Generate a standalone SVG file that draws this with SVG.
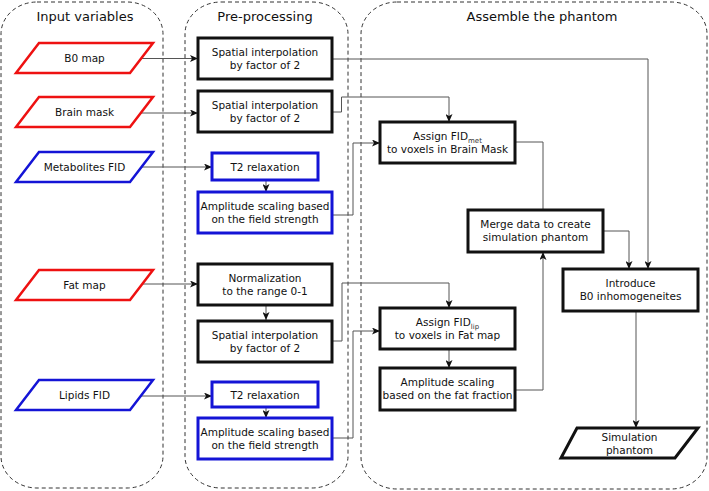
<svg xmlns="http://www.w3.org/2000/svg" width="709" height="491" viewBox="0 0 709 491">
<defs>
<marker id="ah" markerUnits="userSpaceOnUse" markerWidth="9" markerHeight="7" refX="8" refY="3.5" orient="auto">
<path d="M0,0 L8,3.5 L0,7 L2,3.5 Z" fill="#111"/>
</marker>
<style>
.lane{fill:none;stroke:#333;stroke-width:1;stroke-dasharray:4,3}
.title{font-family:"DejaVu Sans",sans-serif;font-size:13px;fill:#111;text-anchor:middle}
.t{font-family:"DejaVu Sans",sans-serif;font-size:10.5px;fill:#111;text-anchor:middle}
.sub{font-size:7px;fill:#333}
.bk{fill:#fff;stroke:#111;stroke-width:3}
.bl{fill:#fff;stroke:#1414d6;stroke-width:3}
.pr{fill:#fff;stroke:#ee1111;stroke-width:2.5}
.pb{fill:#fff;stroke:#1414d6;stroke-width:2.5}
.pk{fill:#fff;stroke:#111;stroke-width:3}
.c{fill:none;stroke:#555;stroke-width:1;marker-end:url(#ah)}
.cn{fill:none;stroke:#555;stroke-width:1}
</style>
</defs>
<g id="lanes">
<rect class="lane" x="1" y="2" width="162" height="486" rx="36" ry="32"/>
<rect class="lane" x="185" y="2" width="163" height="486" rx="36" ry="32"/>
<rect class="lane" x="361" y="2" width="346" height="487" rx="36" ry="32"/>
<text class="title" x="85" y="21">Input variables</text>
<text class="title" x="265" y="21">Pre-processing</text>
<text class="title" x="542" y="21">Assemble the phantom</text>
</g>
<g id="connectors">
<path class="c" d="M140,58.5 H198"/>
<path class="c" d="M332,59 H648 V269"/>
<path class="c" d="M140,113 H198"/>
<path class="c" d="M332,112 H341.5 V97 H449 V122"/>
<path class="c" d="M137,167 H212"/>
<path class="c" d="M266,180 V192"/>
<path class="c" d="M332,215 H353 V143 H380"/>
<path class="cn" d="M515,142 H543 V210"/>
<path class="c" d="M603,231 H629 V269"/>
<path class="c" d="M140,284 H198"/>
<path class="c" d="M266,305 V320"/>
<path class="c" d="M332,341 H342 V283 H449 V308"/>
<path class="c" d="M140,396 H212"/>
<path class="c" d="M266,407 V418"/>
<path class="c" d="M332,438 H353 V331 H380"/>
<path class="c" d="M449,349 V368"/>
<path class="c" d="M515,390 H543 V252"/>
<path class="c" d="M636,311 V428"/>
</g>
<g id="b0map">
<polygon class="pr" points="39,43 153,43 130,73 16,73"/>
<text class="t" x="84.5" y="62">B0 map</text>
</g>
<g id="brainmask">
<polygon class="pr" points="39,97 153,97 130,127 16,127"/>
<text class="t" x="84.5" y="116">Brain mask</text>
</g>
<g id="metfid">
<polygon class="pb" points="39,152 153,152 130,182 16,182"/>
<text class="t" x="84.5" y="171">Metabolites FID</text>
</g>
<g id="fatmap">
<polygon class="pr" points="39,270 153,270 130,300 16,300"/>
<text class="t" x="84.5" y="289">Fat map</text>
</g>
<g id="lipfid">
<polygon class="pb" points="39,380 153,380 130,410 16,410"/>
<text class="t" x="84.5" y="399">Lipids FID</text>
</g>
<g id="interp1">
<rect class="bk" x="198" y="38" width="134" height="41"/>
<text class="t" x="265" y="56">Spatial interpolation</text>
<text class="t" x="265" y="69">by factor of 2</text>
</g>
<g id="interp2">
<rect class="bk" x="198" y="91" width="134" height="41"/>
<text class="t" x="265" y="109">Spatial interpolation</text>
<text class="t" x="265" y="122">by factor of 2</text>
</g>
<g id="t2met">
<rect class="bl" x="212" y="153" width="106" height="27"/>
<text class="t" x="265" y="170.5">T2 relaxation</text>
</g>
<g id="ampmet">
<rect class="bl" x="198" y="192" width="134" height="41"/>
<text class="t" x="265" y="210">Amplitude scaling based</text>
<text class="t" x="265" y="223">on the field strength</text>
</g>
<g id="norm">
<rect class="bk" x="198" y="264" width="134" height="41"/>
<text class="t" x="265" y="282">Normalization</text>
<text class="t" x="265" y="295">to the range 0-1</text>
</g>
<g id="interp3">
<rect class="bk" x="198" y="321" width="134" height="41"/>
<text class="t" x="265" y="339">Spatial interpolation</text>
<text class="t" x="265" y="352">by factor of 2</text>
</g>
<g id="t2lip">
<rect class="bl" x="212" y="382" width="106" height="25"/>
<text class="t" x="265" y="398.5">T2 relaxation</text>
</g>
<g id="amplip">
<rect class="bl" x="198" y="418" width="134" height="41"/>
<text class="t" x="265" y="436">Amplitude scaling based</text>
<text class="t" x="265" y="449">on the field strength</text>
</g>
<g id="assignmet">
<rect class="bk" x="380" y="122" width="135" height="41"/>
<text class="t" x="447.5" y="140">Assign FID<tspan class="sub" dy="2.5">met</tspan></text>
<text class="t" x="447.5" y="153">to voxels in Brain Mask</text>
</g>
<g id="merge">
<rect class="bk" x="468" y="210" width="135" height="42"/>
<text class="t" x="535.5" y="228">Merge data to create</text>
<text class="t" x="535.5" y="241">simulation phantom</text>
</g>
<g id="introduce">
<rect class="bk" x="563" y="269" width="135" height="42"/>
<text class="t" x="630.5" y="287">Introduce</text>
<text class="t" x="630.5" y="300">B0 inhomogeneites</text>
</g>
<g id="assignlip">
<rect class="bk" x="380" y="308" width="135" height="41"/>
<text class="t" x="447.5" y="326">Assign FID<tspan class="sub" dy="2.5">lip</tspan></text>
<text class="t" x="447.5" y="339">to voxels in Fat map</text>
</g>
<g id="ampfat">
<rect class="bk" x="380" y="368" width="135" height="42"/>
<text class="t" x="447.5" y="386">Amplitude scaling</text>
<text class="t" x="447.5" y="399">based on the fat fraction</text>
</g>
<g id="simphantom">
<polygon class="pk" points="577,428 698,428 675,458 561,458"/>
<text class="t" x="629.5" y="440.5">Simulation</text>
<text class="t" x="629.5" y="453.5">phantom</text>
</g>
</svg>
